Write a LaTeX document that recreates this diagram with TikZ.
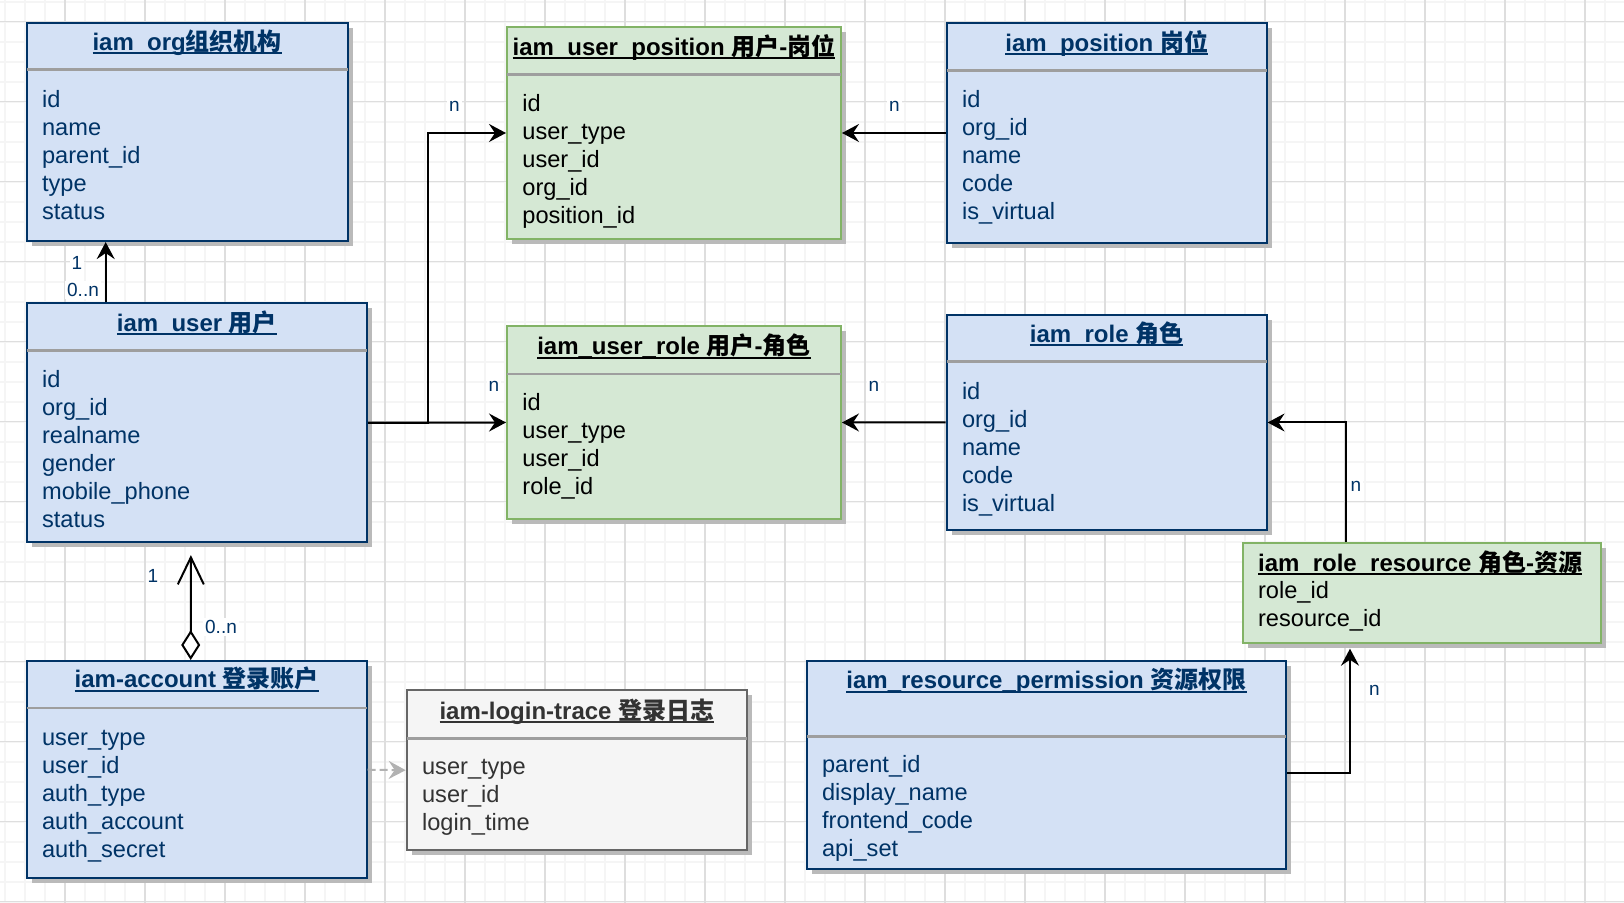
\documentclass[tikz,border=0pt]{standalone}
\usepackage{fontspec}
\setmainfont{Liberation Sans}
\newfontfamily\cjk{Noto Sans CJK SC}
\usetikzlibrary{calc,shadows,arrows.meta}
\definecolor{bluefill}{HTML}{D4E1F5}
\definecolor{bluedraw}{HTML}{003366}
\definecolor{greenfill}{HTML}{D5E8D4}
\definecolor{greendraw}{HTML}{82B366}
\definecolor{greyfill}{HTML}{F5F5F5}
\definecolor{greydraw}{HTML}{666666}
\definecolor{greytext}{HTML}{333333}
\newsavebox\ttlbox
\newcommand{\ttl}[1]{\sbox\ttlbox{#1}\rlap{\rule[-1.8pt]{\wd\ttlbox}{1pt}}\usebox\ttlbox}

\begin{document}
\begin{tikzpicture}[x=0.5pt,y=-0.5pt]

\tikzset{entity/.style={anchor=north west,inner sep=0pt,line width=1pt,drop shadow={shadow xshift=2.5pt,shadow yshift=-2.5pt,fill=black!27,opacity=1}},
bluebox/.style={entity,draw=bluedraw,fill=bluefill},
greenbox/.style={entity,draw=greendraw,fill=greenfill},
greybox/.style={entity,draw=greydraw,fill=greyfill},
headtext/.style={anchor=base,inner sep=0pt,font=\fontsize{12}{14}\selectfont\bfseries},
fieldtext/.style={anchor=north west,inner sep=0pt,align=left,font=\fontsize{11.8}{14}\selectfont},
sepline/.style={draw=black!38,line width=1.3pt,shorten <=0.5pt,shorten >=0.5pt},
relarrow/.style={line width=1pt,-{Stealth[length=8.5pt,width=9pt,inset=3pt]}},
cardlabel/.style={font=\fontsize{9.5}{11}\selectfont,text=bluedraw,fill=white,inner sep=1pt},
minorgrid/.style={line width=1pt,draw=black!4},
majorgrid/.style={line width=0.6pt,draw=black!13}}

\useasboundingbox (0,0) rectangle (1624,903);

% Grid
\fill[white] (0,0) rectangle (1624,903);
\foreach \x in {5,25,...,1624} \draw[minorgrid] (\x,0) -- (\x,903);
\foreach \y in {1.7,21.7,...,903} \draw[minorgrid] (0,\y) -- (1624,\y);
\foreach \x in {65,145,...,1624} \draw[majorgrid] (\x,0) -- (\x,903);
\foreach \y in {21.7,101.7,...,903} \draw[majorgrid] (0,\y) -- (1624,\y);

% iam_org
\node[bluebox,minimum width=160.5pt,minimum height=109.2pt] (org) at (25.7,21.7) {};
\node[headtext,text=bluedraw] (orgT) at ($(org.north)+(0,29)$) {\ttl{iam\_org{\cjk 组织机构}}};
\draw[sepline] ($(org.north west)+(0,48)$) -- ($(org.north east)+(0,48)$);
\node[fieldtext,text=bluedraw] (orgF) at ($(org.north west)+(16,65.4)$) {\strut id\\name\\parent\_id\\type\\status};

% iam_user
\node[bluebox,minimum width=170.2pt,minimum height=119.4pt] (user) at (25.7,302.3) {};
\node[headtext,text=bluedraw] (userT) at ($(user.north)+(0,29)$) {\ttl{iam\_user {\cjk 用户}}};
\draw[sepline] ($(user.north west)+(0,48)$) -- ($(user.north east)+(0,48)$);
\node[fieldtext,text=bluedraw] (userF) at ($(user.north west)+(16,65.4)$) {\strut id\\org\_id\\realname\\gender\\mobile\_phone\\status};

% iam-account
\node[bluebox,minimum width=170pt,minimum height=108.7pt] (acc) at (25.7,660) {};
\node[headtext,text=bluedraw] (accT) at ($(acc.north)+(0,28)$) {\ttl{iam-account {\cjk 登录账户}}};
\draw[sepline] ($(acc.north west)+(0,48)$) -- ($(acc.north east)+(0,48)$);
\node[fieldtext,text=bluedraw] (accF) at ($(acc.north west)+(16,65.4)$) {\strut user\_type\\user\_id\\auth\_type\\auth\_account\\auth\_secret};

% iam-login-trace
\node[greybox,minimum width=170.2pt,minimum height=79.9pt] (login) at (405.7,689.3) {};
\node[headtext,text=greytext] (loginT) at ($(login.north)+(0,30)$) {\ttl{iam-login-trace {\cjk 登录日志}}};
\draw[sepline] ($(login.north west)+(0,49)$) -- ($(login.north east)+(0,49)$);
\node[fieldtext,text=greytext] (loginF) at ($(login.north west)+(16,65.4)$) {\strut user\_type\\user\_id\\login\_time};

% iam_user_position
\node[greenbox,minimum width=167pt,minimum height=106.3pt] (upos) at (506,25.7) {};
\node[headtext] (uposT) at ($(upos.north)+(0,30)$) {\ttl{iam\_user\_position {\cjk 用户}-{\cjk 岗位}}};
\draw[sepline] ($(upos.north west)+(0,48.6)$) -- ($(upos.north east)+(0,48.6)$);
\node[fieldtext] (uposF) at ($(upos.north west)+(16,65.4)$) {\strut id\\user\_type\\user\_id\\org\_id\\position\_id};

% iam_user_role
\node[greenbox,minimum width=167pt,minimum height=96.5pt] (urole) at (506,325) {};
\node[headtext] (uroleT) at ($(urole.north)+(0,30)$) {\ttl{iam\_user\_role {\cjk 用户}-{\cjk 角色}}};
\draw[sepline] ($(urole.north west)+(0,49)$) -- ($(urole.north east)+(0,49)$);
\node[fieldtext] (uroleF) at ($(urole.north west)+(16,65.4)$) {\strut id\\user\_type\\user\_id\\role\_id};

% iam_position
\node[bluebox,minimum width=160pt,minimum height=109.7pt] (pos) at (945.7,22.3) {};
\node[headtext,text=bluedraw] (posT) at ($(pos.north)+(0,29)$) {\ttl{iam\_position {\cjk 岗位}}};
\draw[sepline] ($(pos.north west)+(0,48.4)$) -- ($(pos.north east)+(0,48.4)$);
\node[fieldtext,text=bluedraw] (posF) at ($(pos.north west)+(16,65.4)$) {\strut id\\org\_id\\name\\code\\is\_virtual};

% iam_role
\node[bluebox,minimum width=160pt,minimum height=107.7pt] (role) at (945.6,313.8) {};
\node[headtext,text=bluedraw] (roleT) at ($(role.north)+(0,29)$) {\ttl{iam\_role {\cjk 角色}}};
\draw[sepline] ($(role.north west)+(0,48)$) -- ($(role.north east)+(0,48)$);
\node[fieldtext,text=bluedraw] (roleF) at ($(role.north west)+(16,65.4)$) {\strut id\\org\_id\\name\\code\\is\_virtual};

% iam_role_resource
\node[greenbox,minimum width=179.2pt,minimum height=49.7pt] (rolres) at (1241.7,542.3) {};
\node[headtext,anchor=base west] (rolresT) at ($(rolres.north west)+(16,29.4)$) {\ttl{iam\_role\_resource {\cjk 角色}-{\cjk 资源}}};
\node[fieldtext] (rolresF) at ($(rolres.north west)+(16,36.4)$) {\strut role\_id\\resource\_id};

% iam_resource_permission
\node[bluebox,minimum width=239.8pt,minimum height=103.9pt] (perm) at (805.7,660) {};
\node[headtext,text=bluedraw] (permT) at ($(perm.north)+(0,29)$) {\ttl{iam\_resource\_permission {\cjk 资源权限}}};
\draw[sepline] ($(perm.north west)+(0,76.7)$) -- ($(perm.north east)+(0,76.7)$);
\node[fieldtext,text=bluedraw] (permF) at ($(perm.north west)+(16,92.1)$) {\strut parent\_id\\display\_name\\frontend\_code\\api\_set};

% Relations
\draw[relarrow] ($(user.north west)+(80,0)$) -- ($(org.south west)+(80,0)$);
\draw[relarrow] (user.east) -- ++(60,0) |- (upos.west);
\draw[relarrow] (user.east) -- (urole.west);
\draw[relarrow] (pos.west) -- (upos.east);
\draw[relarrow] (role.west) -- (urole.east);
\draw[relarrow] ($(rolres.north west)+(104,0)$) |- (role.east);
\draw[relarrow,shorten >=2.5pt] ($(perm.north east)+(0,113.3)$) -| ($(rolres.south west)+(108.3,0)$);
\draw[line width=1pt,{Diamond[fill=white,length=15pt,width=9.5pt]}-{Straight Barb[length=13.5pt,width=13pt]},shorten >=6pt] ([xshift=-3pt]acc.north) -- ([xshift=-3pt]user.south);
\draw[relarrow,draw=black!30,dash pattern=on 4pt off 2pt] (acc.east) -- (login.west);

% Cardinalities
\node[cardlabel] (orgOne) at (77,263) {1};
\node[cardlabel] (orgMany) at (83,290) {0..n};
\node[cardlabel] (accOne) at (153,576) {1};
\node[cardlabel] (accMany) at (221,627) {0..n};
\node[cardlabel] (uposL) at (454.3,106.7) {n};
\node[cardlabel] (uposR) at (894.3,106.7) {n};
\node[cardlabel] (uroleL) at (494,386.7) {n};
\node[cardlabel] (uroleR) at (874,386.7) {n};
\node[cardlabel] (roleN) at (1356,486.7) {n};
\node[cardlabel] (permN) at (1374.3,690.7) {n};

\end{tikzpicture}
\end{document}
